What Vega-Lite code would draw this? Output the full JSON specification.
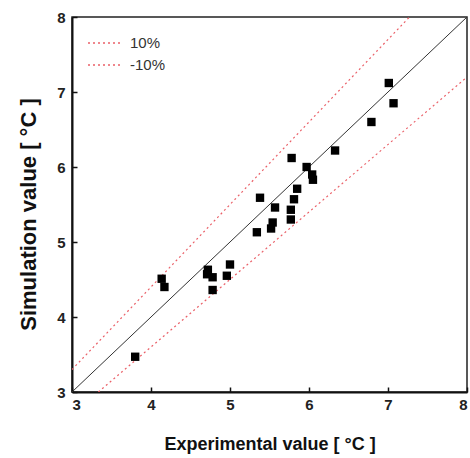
{
  "$schema": "https://vega.github.io/schema/vega-lite/v6.json",
  "width": 395,
  "height": 375,
  "autosize": {"type": "none"},
  "padding": {"left": 72, "top": 17, "right": 3, "bottom": 66},
  "background": "white",
  "config": {
    "view": {"stroke": "#222", "strokeWidth": 1.5},
    "axis": {
      "grid": false,
      "domainColor": "#111",
      "domainWidth": 2,
      "tickColor": "#111",
      "tickWidth": 1.5,
      "tickSize": -5,
      "labelFont": "Liberation Sans, Arial, sans-serif",
      "labelFontWeight": "bold",
      "labelFontSize": 15,
      "labelColor": "#222",
      "titleColor": "#111",
      "format": "d"
    }
  },
  "layer": [
    {
      "data": {"values": [{"x": 3, "y": 3}, {"x": 8, "y": 8}]},
      "mark": {"type": "line", "color": "#333", "strokeWidth": 1, "clip": true},
      "encoding": {
        "x": {"field": "x", "type": "quantitative", "scale": {"domain": [3, 8], "nice": false},
          "axis": {"values": [3, 4, 5, 6, 7, 8], "labelPadding": 10, "format": "d",
            "title": "Experimental value  [ °C ]",
            "titleFont": "Liberation Sans, Arial, sans-serif",
            "titleFontSize": 18, "titleFontWeight": "bold", "titleY": 52, "titleBaseline": "middle"}},
        "y": {"field": "y", "type": "quantitative", "scale": {"domain": [3, 8], "nice": false},
          "axis": {"values": [3, 4, 5, 6, 7, 8], "labelPadding": 12, "format": "d",
            "title": "Simulation value [ °C ]",
            "titleFont": "Liberation Sans, Arial, sans-serif",
            "titleFontSize": 22, "titleFontWeight": "bold", "titleX": -44, "titleY": 197, "titleBaseline": "middle"}}
      }
    },
    {
      "data": {"values": [
        {"series": "10%", "x": 3, "y": 3.3},
        {"series": "10%", "x": 7.2727, "y": 8},
        {"series": "-10%", "x": 3.3333, "y": 3},
        {"series": "-10%", "x": 8, "y": 7.2}
      ]},
      "mark": {"type": "line", "strokeWidth": 1.2, "strokeDash": [2, 3], "clip": true},
      "encoding": {
        "x": {"field": "x", "type": "quantitative"},
        "y": {"field": "y", "type": "quantitative"},
        "color": {"field": "series", "type": "nominal",
          "scale": {"domain": ["10%", "-10%"], "range": ["#ea6068", "#ea6068"]},
          "legend": {"title": null, "orient": "none", "legendX": 15, "legendY": 15,
            "symbolType": "stroke", "symbolSize": 1089, "symbolStrokeWidth": 1.5,
            "symbolStrokeColor": "#ea6068", "symbolOpacity": 1,
            "symbolDash": [2, 3], "labelFontSize": 15, "labelColor": "#333",
            "labelFont": "Liberation Sans, Arial, sans-serif", "rowPadding": 0, "clipHeight": 22, "labelOffset": 8}}
      }
    },
    {
      "data": {"values": [
        {"exp": 3.80, "sim": 3.47},
        {"exp": 4.135, "sim": 4.51},
        {"exp": 4.17, "sim": 4.40},
        {"exp": 4.72, "sim": 4.63},
        {"exp": 4.71, "sim": 4.57},
        {"exp": 4.78, "sim": 4.53},
        {"exp": 4.78, "sim": 4.36},
        {"exp": 4.96, "sim": 4.55},
        {"exp": 5.00, "sim": 4.70},
        {"exp": 5.34, "sim": 5.13},
        {"exp": 5.38, "sim": 5.59},
        {"exp": 5.52, "sim": 5.18},
        {"exp": 5.54, "sim": 5.26},
        {"exp": 5.57, "sim": 5.46},
        {"exp": 5.77, "sim": 5.30},
        {"exp": 5.77, "sim": 5.43},
        {"exp": 5.81, "sim": 5.57},
        {"exp": 5.85, "sim": 5.71},
        {"exp": 5.78, "sim": 6.12},
        {"exp": 5.97, "sim": 6.00},
        {"exp": 6.04, "sim": 5.90},
        {"exp": 6.05, "sim": 5.83},
        {"exp": 6.33, "sim": 6.22},
        {"exp": 6.79, "sim": 6.60},
        {"exp": 7.01, "sim": 7.12},
        {"exp": 7.07, "sim": 6.85}
      ]},
      "mark": {"type": "point", "shape": "square", "filled": true, "color": "#000", "size": 70, "opacity": 1},
      "encoding": {
        "x": {"field": "exp", "type": "quantitative"},
        "y": {"field": "sim", "type": "quantitative"}
      }
    }
  ]
}
